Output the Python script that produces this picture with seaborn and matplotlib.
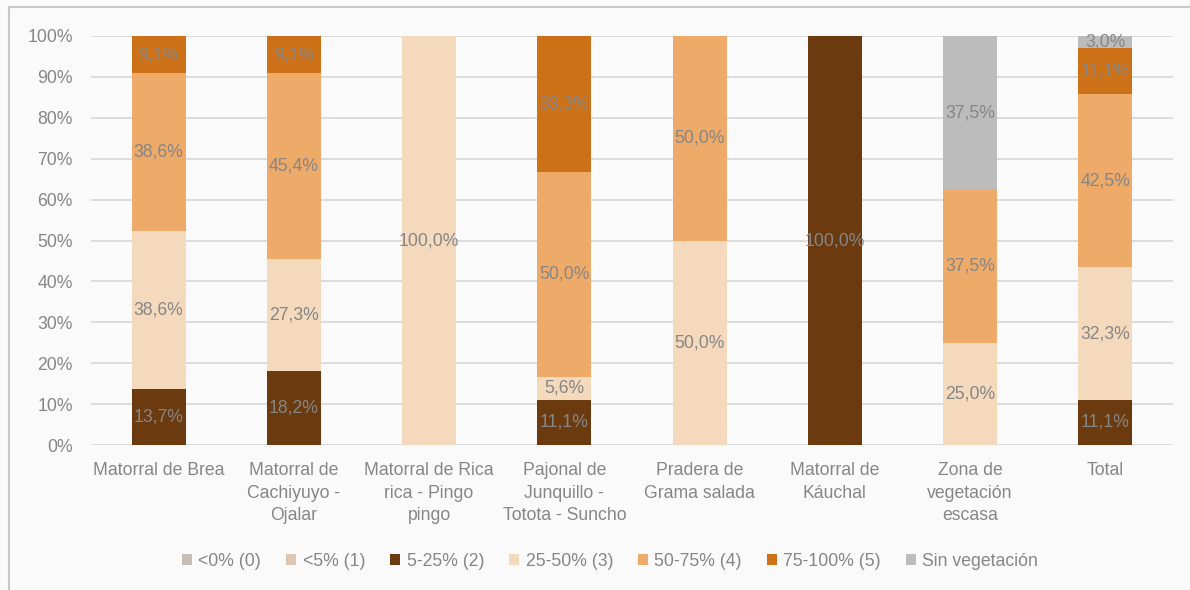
import pandas as pd
import seaborn as sns
import matplotlib.pyplot as plt
from matplotlib.patches import Patch, Rectangle

categories = ["Matorral de Brea", "Matorral de\nCachiyuyo -\nOjalar",
              "Matorral de Rica\nrica - Pingo\npingo", "Pajonal de\nJunquillo -\nTotota - Suncho",
              "Pradera de\nGrama salada", "Matorral de\nKáuchal",
              "Zona de\nvegetación\nescasa", "Total"]
series_names = ["<0% (0)", "<5% (1)", "5-25% (2)", "25-50% (3)", "50-75% (4)",
                "75-100% (5)", "Sin vegetación"]
lt0 = [0, 0, 0, 0, 0, 0, 0, 0]
lt5 = [0, 0, 0, 0, 0, 0, 0, 0]
p5_25 = [13.7, 18.2, 0, 11.1, 0, 100.0, 0, 11.1]
p25_50 = [38.6, 27.3, 100.0, 5.6, 50.0, 0, 25.0, 32.3]
p50_75 = [38.6, 45.4, 0, 50.0, 50.0, 0, 37.5, 42.5]
p75_100 = [9.1, 9.1, 0, 33.3, 0, 0, 0, 11.1]
sin_veg = [0, 0, 0, 0, 0, 0, 37.5, 3.0]
colors = ["#c8bcb3", "#dfc6b0", "#6b3a0f", "#f4d9bd", "#eeaa69", "#cd7119", "#bcbcbc"]

series = [lt0, lt5, p5_25, p25_50, p50_75, p75_100, sin_veg]
txt = "#868686"
bg = "#fafafa"

sns.set_style("white")
plt.rcParams['font.family'] = ['Liberation Sans', 'DejaVu Sans']
plt.rcParams['font.size'] = 12.7

fig = plt.figure(figsize=(11.9, 5.9), dpi=100, facecolor=bg)
ax = fig.add_axes([91 / 1190, 1 - 445 / 590, (1173 - 91) / 1190, (445 - 36) / 590])
ax.set_facecolor(bg)

# cumulative sums, drawn from the top layer down so they stack
cum = []
run = [0.0] * len(categories)
for s in series:
    run = [a + b for a, b in zip(run, s)]
    cum.append(run)

for i in reversed(range(len(series))):
    df = pd.DataFrame({"cat": categories, "val": cum[i]})
    sns.barplot(data=df, x="cat", y="val", color=colors[i], width=0.4,
                saturation=1, errorbar=None, ax=ax, linewidth=0, zorder=2)

# data labels
for i, s in enumerate(series):
    for j, v in enumerate(s):
        if v > 0:
            bottom = cum[i][j] - v
            ax.text(j, bottom + v / 2, f"{v:.1f}".replace(".", ",") + "%",
                    ha="center", va="center", color=txt, fontsize=12.7, zorder=3)

ax.set_ylim(0, 100)
ax.set_xlim(-0.5, len(categories) - 0.5)
ax.set_yticks(range(0, 101, 10))
ax.set_yticklabels([f"{t}%" for t in range(0, 101, 10)])
ax.grid(axis="y", color="#d9d9d9", linewidth=1.3, zorder=0)
ax.set_axisbelow(True)
for sp in ax.spines.values():
    sp.set_visible(False)
ax.tick_params(axis="both", length=0, colors=txt, labelsize=12.7)
ax.tick_params(axis="y", pad=13)
ax.tick_params(axis="x", pad=12)
for lab in ax.get_xticklabels():
    lab.set_linespacing(1.45)
ax.set_xlabel("")
ax.set_ylabel("")

handles = [Patch(facecolor=c, edgecolor="none", label=n) for c, n in zip(colors, series_names)]
leg = fig.legend(handles=handles, loc="center", bbox_to_anchor=(610 / 1190, 1 - 561 / 590),
                 ncol=7, frameon=False, handlelength=0.6, handleheight=0.6,
                 handletextpad=0.35, columnspacing=1.4, fontsize=12.7)
for t in leg.get_texts():
    t.set_color(txt)

fig.patches.append(Rectangle((9 / 1190, -0.1), 1.2, 1 - 7 / 590 + 0.1,
                             transform=fig.transFigure, fill=False,
                             edgecolor="#c8c8c8", linewidth=1.5))

plt.savefig("out.png", dpi=100, facecolor=bg)
plt.close("all")
